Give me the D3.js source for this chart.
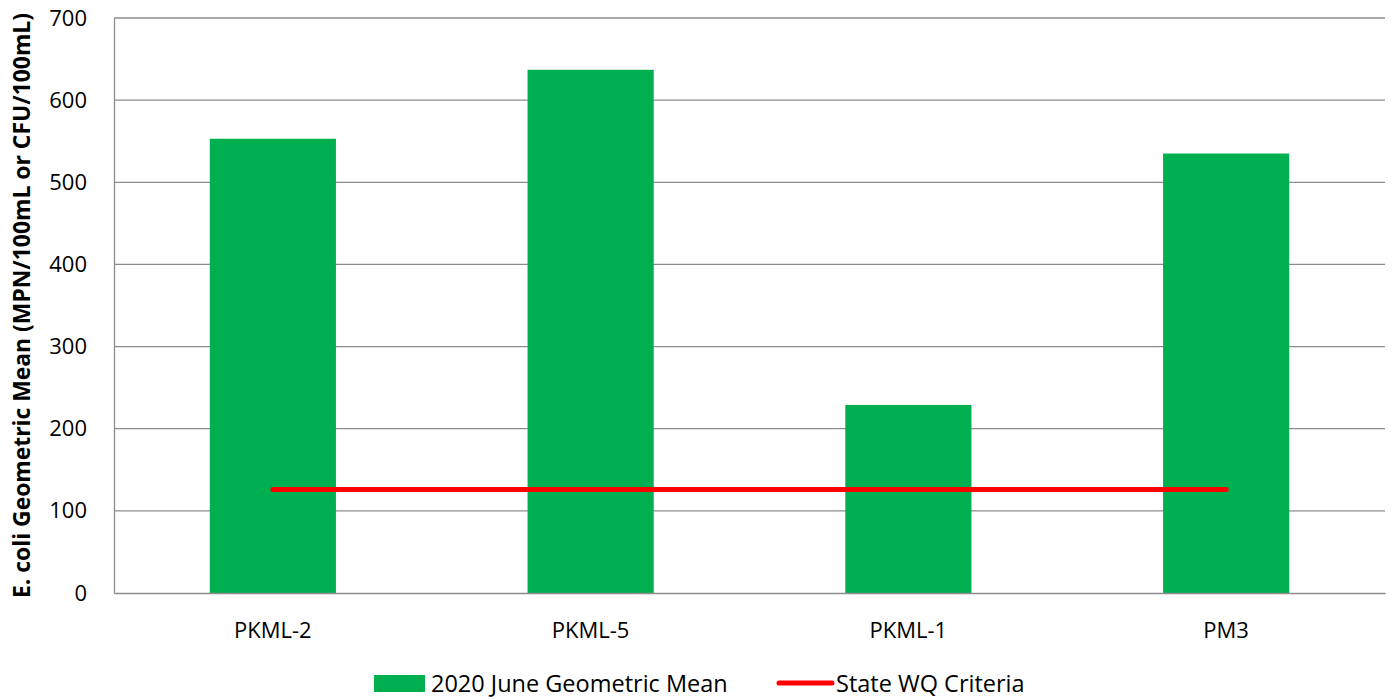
<!DOCTYPE html>
<html>
<head>
<meta charset="utf-8">
<script src="https://cdn.jsdelivr.net/npm/d3@7"></script>
<style>
  body { margin: 0; background: #fff; }
  svg { font-family: "Open Sans", "Noto Sans", sans-serif; }
</style>
</head>
<body>
<svg id="chart" width="1395" height="700"></svg>
<script>
const sites = ["PKML-2", "PKML-5", "PKML-1", "PM3"];
const geoMean = [553, 637, 229, 535];
const criteria = [126, 126, 126, 126];
const yTicks = [0, 100, 200, 300, 400, 500, 600, 700];

const margin = {top: 18, right: 10, bottom: 107, left: 114};
const width = 1395, height = 700;

const svg = d3.select("#chart");

const x = d3.scaleBand()
    .domain(sites)
    .range([margin.left, width - margin.right])
    .paddingInner(0.603)
    .paddingOuter(0.3015);

const y = d3.scaleLinear()
    .domain([0, 700])
    .range([height - margin.bottom, margin.top]);

// gridlines
svg.append("g")
    .selectAll("line")
    .data(yTicks.filter(d => d > 0))
    .join("line")
    .attr("x1", margin.left)
    .attr("x2", width - margin.right)
    .attr("y1", d => y(d))
    .attr("y2", d => y(d))
    .attr("stroke", "#8c8c8c")
    .attr("stroke-width", 1.3);

// y axis
const yAxis = svg.append("g")
    .attr("transform", `translate(${margin.left},0)`)
    .call(d3.axisLeft(y).tickValues(yTicks).tickSize(0).tickPadding(27));
yAxis.select(".domain").attr("stroke", "#8c8c8c").attr("stroke-width", 1.3);
yAxis.selectAll("text").attr("font-size", 22).attr("fill", "#000")
    .attr("font-family", "Open Sans, sans-serif");

// bars
svg.append("g")
    .selectAll("rect")
    .data(sites)
    .join("rect")
    .attr("x", d => x(d))
    .attr("width", x.bandwidth())
    .attr("y", (d, i) => y(geoMean[i]))
    .attr("height", (d, i) => y(0) - y(geoMean[i]))
    .attr("fill", "#00b050");

// x axis
const xAxis = svg.append("g")
    .attr("transform", `translate(0,${y(0)})`)
    .call(d3.axisBottom(x).tickSize(0).tickPadding(29));
xAxis.select(".domain").attr("stroke", "#8c8c8c").attr("stroke-width", 1.3);
xAxis.selectAll("text").attr("font-size", 22).attr("fill", "#000")
    .attr("font-family", "Open Sans, sans-serif");

// criteria line
const line = d3.line()
    .x((d, i) => x(sites[i]) + x.bandwidth() / 2)
    .y(d => y(d));
svg.append("path")
    .datum(criteria)
    .attr("d", line)
    .attr("fill", "none")
    .attr("stroke", "#ff0000")
    .attr("stroke-width", 5)
    .attr("stroke-linecap", "round");

// y title
svg.append("text")
    .attr("transform", `translate(30,${(margin.top + height - margin.bottom) / 2}) rotate(-90)`)
    .attr("text-anchor", "middle")
    .attr("font-size", 23)
    .attr("font-weight", "bold")
    .attr("textLength", 585)
    .attr("lengthAdjust", "spacingAndGlyphs")
    .text("E. coli Geometric Mean (MPN/100mL or CFU/100mL)");

// legend
const legend = svg.append("g").attr("font-size", 23.5);
legend.append("rect")
    .attr("x", 374).attr("y", 675).attr("width", 51).attr("height", 17)
    .attr("fill", "#00b050");
legend.append("text").attr("x", 431).attr("y", 692)
    .text("2020 June Geometric Mean");
legend.append("line")
    .attr("x1", 779).attr("x2", 832).attr("y1", 683).attr("y2", 683)
    .attr("stroke", "#ff0000").attr("stroke-width", 5).attr("stroke-linecap", "round");
legend.append("text").attr("x", 836).attr("y", 692)
    .text("State WQ Criteria");
</script>
</body>
</html>
